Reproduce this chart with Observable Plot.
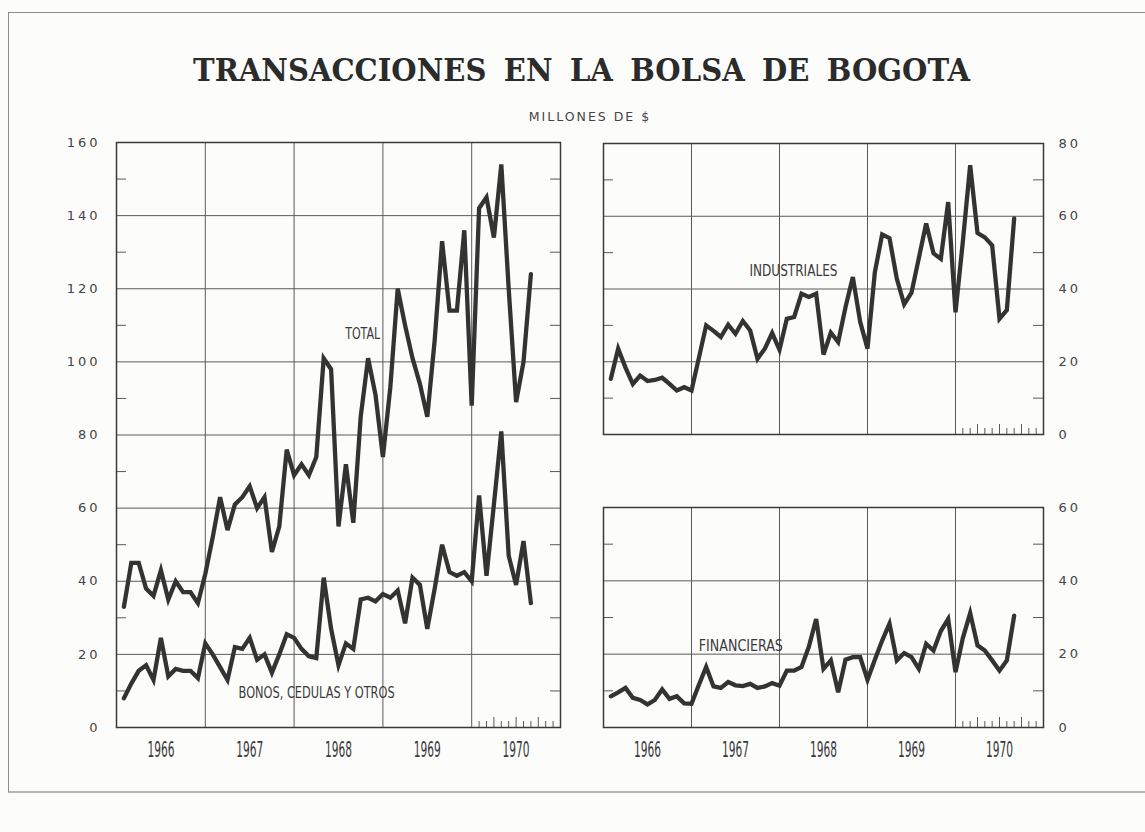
<!DOCTYPE html>
<html>
<head>
<meta charset="utf-8">
<script src="https://cdn.jsdelivr.net/npm/d3@7"></script>
<script src="https://cdn.jsdelivr.net/npm/@observablehq/plot@0.6"></script>
<style>
  html, body { margin: 0; padding: 0; background: #fcfcfb; }
  #root { position: relative; width: 1145px; height: 832px; overflow: hidden; background: #fcfcfb; }
  #outer { position: absolute; left: 8px; top: 12px; width: 1140px; height: 781px; border-top: 1.5px solid #8c8c8c; border-left: 1.5px solid #8c8c8c; border-bottom: 2px solid #b5b5b5; box-sizing: border-box; }
  #title { position: absolute; left: 193px; top: 54px; font-family: "DejaVu Serif", "Liberation Serif", serif; font-weight: bold; font-size: 32px; line-height: 1; color: #2b2b2b; white-space: nowrap; transform-origin: 0 0; word-spacing: 8px; }
  #subtitle { position: absolute; left: 0; width: 1180px; top: 109px; text-align: center; font-family: "DejaVu Sans", sans-serif; font-size: 12.5px; letter-spacing: 2px; color: #444; white-space: nowrap; }
  .panel { position: absolute; }
  .panel svg { overflow: visible; }
</style>
</head>
<body>
<div id="root">
  <div id="outer"></div>
  <div id="title"><span id="titletext">TRANSACCIONES EN LA BOLSA DE BOGOTA</span></div>
  <div id="subtitle">MILLONES DE $</div>
  <div id="pLeft" class="panel"></div>
  <div id="pInd" class="panel"></div>
  <div id="pFin" class="panel"></div>
</div>
<script>
// ---- Data (monthly, Jan 1966 – Aug 1970), millones de $ ----
const years = ["1966", "1967", "1968", "1969", "1970"];
const total = [33,45,45,38,36,43,35,40,37,37, 34,42,52,63,54,61,63,66,60,63,
  48,55,76,69,72,69,74,101,98,55, 72,56,85,101,91,74,93,120,110,101,
  94,85,106,133,114,114,136,88,142,145, 134,154,120,89,100,124];
const bonos = [8,12,15.5,17,13,24.5,14,16,15.5,15.5, 13.5,23,20,16.5,13,22,21.5,24.5,18.5,20,
  15,20,25.5,24.5,21.5,19.5,19,41,27,17, 23,21.5,35,35.5,34.5,36.5,35.5,37.5,28.5,41,
  39,27,38,50,42.5,41.5,42.5,40,63.5,41.5, 61,81,47,39,51,34];
const industriales = [15.3,23.6,18.4,13.9,16.2,14.7,15,15.6,13.9,12.1, 13,12.1,21,30,28.5,26.8,30.2,27.7,31.2,28.6,
  20.8,23.6,27.9,23.3,31.8,32.3,38.7,37.8,38.7,22, 28,25.4,35,43.3,31,23.6,44.6,55,54,42.8,
  35.8,39,48.5,58,49.8,48.3,63.9,33.6,53,74, 55.4,54.2,52,31.8,34.2,59.4];
const financieras = [8.5,9.6,10.8,8.1,7.5,6.3,7.5,10.4,7.8,8.5, 6.6,6.5,11.6,16.5,11.2,10.8,12.4,11.5,11.3,11.9,
  10.8,11.2,12.1,11.4,15.5,15.5,16.5,22,29.6,16, 18.3,9.6,18.5,19.2,19.2,13,18.5,23.7,28.3,18.3,
  20.3,19.2,16,22.8,21,26.3,29.6,15.1,24.4,31.2, 22.4,21,18.3,15.5,18.3,30.5];

const leftTicks = [0, 20, 40, 60, 80, 100, 120, 140, 160];
const indTicks = [0, 20, 40, 60, 80];
const finTicks = [0, 20, 40, 60];

// series labels (position in data units: month index, value)
const leftLabels = [
  {text: "TOTAL", x: 30.9, y: 107.5, w: 35},
  {text: "BONOS, CEDULAS Y OTROS", x: 16.5, y: 9.5, w: 156}
];
const indLabels = [{text: "INDUSTRIALES", x: 19.9, y: 45, w: 88}];
const finLabels = [{text: "FINANCIERAS", x: 13, y: 22.3, w: 84}];

// ---- Rendering ----
const INK = "#333";
const GRID = "#5a5a5a";
const yearBounds = [12, 24, 36, 48];
const monthTicks = [49, 50, 51, 52, 53, 54, 55, 56, 57, 58, 59];
const tallTicks = [51, 54, 57];
const toRows = arr => arr.map((v, i) => ({m: i + 1, v}));

function panel({series, labels, yMax, gridY, minorY, axisTicks, side, width, height, mt, mb, ml, mr, showYears}) {
  const pxY = (height - mt - mb) / yMax;
  const pxX = (width - ml - mr) / 60;
  const tickLen = 10 / pxX;
  const marks = [
    Plot.ruleY(gridY, {stroke: GRID, strokeWidth: 1}),
    Plot.ruleX(yearBounds, {stroke: GRID, strokeWidth: 1}),
    Plot.ruleY(minorY, {x1: 0, x2: tickLen, stroke: GRID, strokeWidth: 1}),
    Plot.ruleY(minorY, {x1: 60 - tickLen, x2: 60, stroke: GRID, strokeWidth: 1}),
    Plot.ruleX(monthTicks, {x: d => d, y1: 0, y2: d => (tallTicks.includes(d) ? 10 : 6) / pxY, stroke: GRID, strokeWidth: 1}),
    Plot.frame({stroke: "#3a3a3a", strokeWidth: 1.5}),
    ...series.map(s => Plot.line(toRows(s), {x: "m", y: "v", stroke: INK, strokeWidth: 4.3, strokeLinejoin: "miter", strokeMiterlimit: 4})),
    Plot.text(labels, {x: "x", y: "y", text: "text", textAnchor: "start", fill: "#3a3a3a",
      fontFamily: "'Liberation Sans Narrow', 'DejaVu Sans Condensed', 'Roboto', sans-serif", fontSize: 15}),
    Plot.text(axisTicks, {x: side === "left" ? 0 : 60, y: d => d, text: d => String(d),
      dx: side === "left" ? -16 : 15, textAnchor: side === "left" ? "end" : "start", fill: "#444",
      fontFamily: "'DejaVu Sans', sans-serif", fontSize: 13})
  ];
  if (showYears) {
    marks.push(Plot.text(years, {x: (d, i) => 6 + 12 * i, y: 0, dy: 23, text: d => d, fill: "#3a3a3a",
      fontFamily: "'Liberation Sans Narrow', 'DejaVu Sans Condensed', 'Roboto', sans-serif", fontSize: 21}));
  }
  const svg = Plot.plot({
    width, height, marginTop: mt, marginBottom: mb, marginLeft: ml, marginRight: mr,
    x: {domain: [0, 60], axis: null},
    y: {domain: [0, yMax], axis: null},
    style: {background: "transparent", overflow: "visible"},
    marks
  });
  // condense label text like the original lettering
  const widths = new Map([...labels.map(l => [l.text, l.w]), ...years.map(y => [y, 27])]);
  d3.select(svg).selectAll("text").each(function () {
    const t = this.textContent;
    if (widths.has(t)) {
      this.setAttribute("textLength", widths.get(t));
      this.setAttribute("lengthAdjust", "spacingAndGlyphs");
    } else if (/^\d+$/.test(t)) {
      this.style.letterSpacing = "3px";
    }
  });
  return svg;
}

function place(id, left, top, svg) {
  const el = document.getElementById(id);
  el.style.left = left + "px";
  el.style.top = top + "px";
  el.appendChild(svg);
}

place("pLeft", 0, 130, panel({
  series: [total, bonos], labels: leftLabels, yMax: 160,
  gridY: [20, 40, 60, 80, 100, 120, 140], minorY: [10, 30, 50, 70, 90, 110, 130, 150],
  axisTicks: leftTicks, side: "left",
  width: 580, height: 640, mt: 12, mb: 43, ml: 116, mr: 20, showYears: true
}));

place("pInd", 560, 130, panel({
  series: [industriales], labels: indLabels, yMax: 80,
  gridY: [20, 40, 60], minorY: [10, 30, 50, 70],
  axisTicks: indTicks, side: "right",
  width: 560, height: 320, mt: 13, mb: 16, ml: 43, mr: 77, showYears: false
}));

place("pFin", 560, 495, panel({
  series: [financieras], labels: finLabels, yMax: 60,
  gridY: [20, 40], minorY: [10, 30, 50],
  axisTicks: finTicks, side: "right",
  width: 560, height: 280, mt: 12, mb: 48, ml: 43, mr: 77, showYears: true
}));

// fit title width to the original lettering
const tt = document.getElementById("titletext");
const w = tt.getBoundingClientRect().width;
document.getElementById("title").style.transform = `scaleX(${777 / w})`;
</script>
</body>
</html>
